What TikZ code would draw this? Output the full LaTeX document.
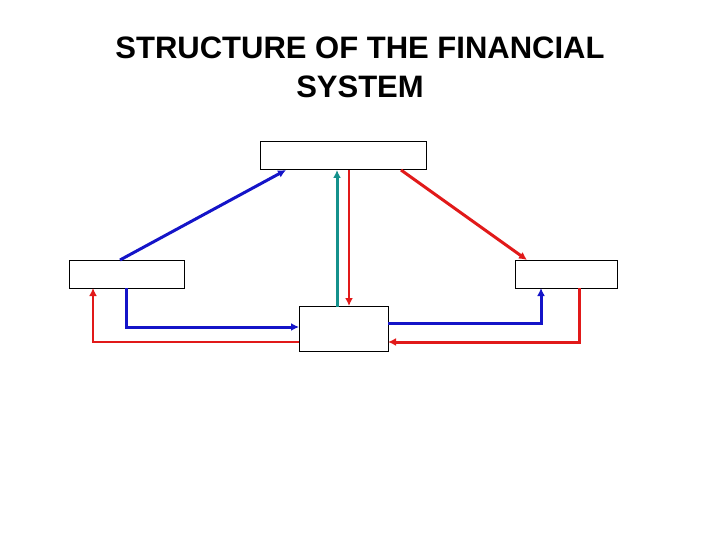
\documentclass[tikz,border=0pt]{standalone}
\usepackage{fontspec}
\setmainfont{Liberation Sans}
\usetikzlibrary{arrows.meta}
\definecolor{myblue}{RGB}{20,20,200}
\definecolor{myred}{RGB}{225,25,25}
\definecolor{myteal}{RGB}{20,145,140}
\begin{document}
\begin{tikzpicture}[x=1pt,y=-1pt,
  box/.style={draw=black,line width=1pt,fill=white},
  arr/.style={line width=3pt,-{Latex[length=8pt,width=8pt]}}]
\useasboundingbox (0,0) rectangle (720,540);
\node[font=\bfseries\fontsize{31}{39}\selectfont,align=center] (title) at (360,67) {STRUCTURE OF THE FINANCIAL\\SYSTEM};
\draw[box] (260,142) rectangle (426,170);
\draw[box] (69,260) rectangle (184,288);
\draw[box] (515,260) rectangle (617,288);
\draw[box] (299,306) rectangle (388,351);
\draw[arr,myblue] (120,260) -- (286,170);
\draw[arr,myteal] (337,307) -- (337,170);
\draw[arr,myred,line width=2pt] (349,170) -- (349,306);
\draw[arr,myred] (401,170) -- (527,260);
\draw[arr,myblue] (126,288) |- (299,327);
\draw[arr,myred,line width=2pt] (299,342) -| (93,288);
\draw[arr,myblue] (388,323) -| (541,288);
\draw[arr,myred] (579,288) |- (388,342);
\end{tikzpicture}
\end{document}
